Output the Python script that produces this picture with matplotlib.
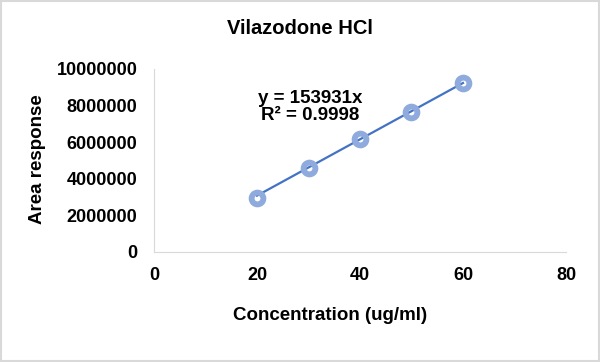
import matplotlib.pyplot as plt
import numpy as np

# donnees
concentration = [20, 30, 40, 50, 60]
aire = [2970000, 4570000, 6150000, 7670000, 9240000]
pente = 153931
r2 = 0.9998

plt.rcParams['font.family'] = ['Liberation Sans', 'DejaVu Sans']
plt.rcParams['font.weight'] = 'bold'

fig = plt.figure(figsize=(6, 3.62), dpi=100)
ax = fig.add_axes([0.2567, 0.3039, 0.6866, 0.5055])

# droite de tendance
xt = np.array([concentration[0], concentration[-1]])
ax.plot(xt, pente * xt, color='#4472C4', lw=1.6, zorder=2)
ax.plot(concentration, aire, 'o', ms=8.5, mfc='none', mec='#8FAADC', mew=4.2, zorder=3)

ax.set_xlim(0, 80)
ax.set_ylim(0, 10000000)
ax.set_xticks([0, 20, 40, 60, 80])
ax.set_yticks(range(0, 10000001, 2000000))
ax.set_yticklabels([str(v) for v in range(0, 10000001, 2000000)])
ax.tick_params(length=0, labelsize=13)
ax.tick_params(axis='y', pad=12)
ax.tick_params(axis='x', pad=11)
for s in ['top', 'right']:
    ax.spines[s].set_visible(False)
for s in ['left', 'bottom']:
    ax.spines[s].set_color('#D9D9D9')

fig.text(330 / 600, 1 - 316 / 362, 'Concentration (ug/ml)', ha='center', va='center',
         fontsize=13.5, fontweight='bold')
fig.text(37 / 600, 1 - 159 / 362, 'Area response', ha='center', va='center', rotation=90,
         fontsize=13.5, fontweight='bold')
fig.text(0.5, 1 - 28 / 362, 'Vilazodone HCl', ha='center', va='center', fontsize=14.5, fontweight='bold')
ax.text(30.3, 7920000, 'y = 153931x\nR\u00b2 = 0.9998', ha='center', va='center',
        fontsize=13.5, fontweight='bold', linespacing=1.0)

# cadre gris
fig.patches.append(plt.Rectangle((0.001, 0.002), 0.997, 0.995, transform=fig.transFigure,
                                 fill=False, ec='#D9D9D9', lw=1.5))

fig.savefig('out.png', dpi=100)
